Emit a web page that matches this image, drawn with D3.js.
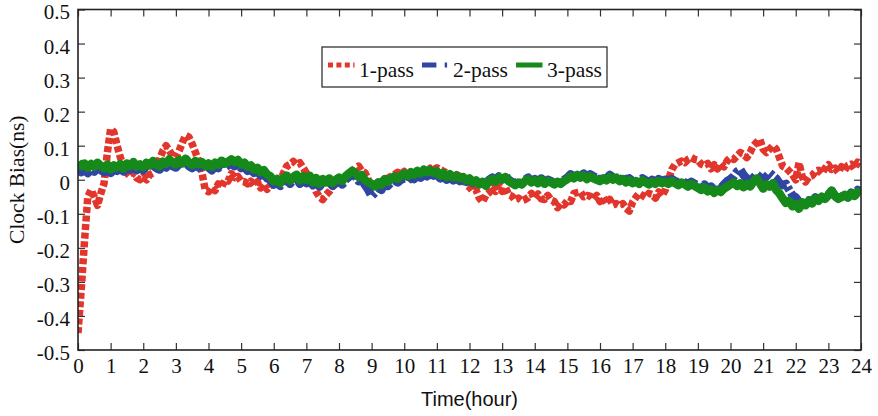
<!DOCTYPE html>
<html><head><meta charset="utf-8">
<script src="https://cdn.jsdelivr.net/npm/d3@7"></script>
<style>
html,body{margin:0;padding:0;background:#fff;}
svg{display:block;}
</style></head>
<body>
<svg id="chart" width="878" height="416"></svg>
<script>
// ---- data ----
const timeStep = 0.1; // hours between samples (0 .. 24)
const xTickLabels = ["0","1","2","3","4","5","6","7","8","9","10","11","12","13","14","15","16","17","18","19","20","21","22","23","24"];
const yTickValues = [-0.5,-0.4,-0.3,-0.2,-0.1,0,0.1,0.2,0.3,0.4,0.5];
const yTickLabels = ["-0.5","-0.4","-0.3","-0.2","-0.1","0","0.1","0.2","0.3","0.4","0.5"];
const seriesNames = ["1-pass","2-pass","3-pass"];

const pass1 = [
-0.45,-0.32,-0.18,-0.05,-0.03,-0.05,-0.075,-0.04,-0.01,0.08,
0.15,0.14,0.10,0.065,0.04,0.02,0.01,0.02,0.005,0.0,
0.01,0.0,0.015,0.02,0.035,0.06,0.085,0.10,0.085,0.07,
0.065,0.085,0.11,0.13,0.125,0.105,0.08,0.055,0.02,-0.03,
-0.035,-0.022,-0.032,-0.012,-0.022,-0.002,-0.004,0.018,0.006,0.010,
-0.004,-0.006,-0.012,-0.004,-0.018,-0.006,-0.024,-0.012,-0.028,-0.016,
-0.015,-0.01,-0.005,0.02,0.04,0.045,0.054,0.045,0.05,0.035,
0.02,0.005,-0.01,-0.035,-0.05,-0.058,-0.045,-0.035,-0.02,-0.01,
-0.005,0.0,0.005,0.01,0.02,0.035,0.04,0.025,0.02,0.0,
-0.02,-0.015,-0.01,-0.005,0.0,0.005,0.01,0.015,0.022,0.015,
0.024,0.008,0.022,0.010,0.024,0.008,0.022,0.020,0.034,0.030,
0.035,0.03,0.025,0.02,0.015,0.01,0.015,0.01,0.005,-0.015,
-0.022,-0.034,-0.030,-0.054,-0.065,-0.046,-0.038,-0.020,-0.034,-0.016,
-0.034,-0.022,-0.044,-0.048,-0.060,-0.054,-0.062,-0.058,-0.052,-0.040,
-0.054,-0.042,-0.056,-0.058,-0.046,-0.060,-0.064,-0.082,-0.070,-0.074,
-0.062,-0.064,-0.040,-0.038,-0.036,-0.050,-0.046,-0.048,-0.058,-0.046,
-0.064,-0.052,-0.068,-0.058,-0.074,-0.070,-0.076,-0.070,-0.084,-0.092,
-0.066,-0.052,-0.040,-0.046,-0.052,-0.040,-0.044,-0.054,-0.036,-0.048,
-0.03,0.0,0.03,0.045,0.05,0.055,0.05,0.06,0.065,0.06,
0.058,0.046,0.042,0.048,0.032,0.044,0.032,0.048,0.038,0.056,
0.065,0.06,0.07,0.08,0.075,0.065,0.08,0.1,0.11,0.118,
0.09,0.08,0.09,0.1,0.09,0.065,0.04,0.035,0.025,0.015,
0.000,0.050,0.008,-0.006,0.008,0.012,0.024,0.028,0.018,0.034,
0.044,0.030,0.034,0.022,0.038,0.028,0.042,0.046,0.032,0.052,
0.045];

const pass2 = [
0.030,0.022,0.028,0.020,0.030,0.024,0.036,0.028,0.022,0.032,
0.020,0.030,0.026,0.036,0.024,0.034,0.030,0.040,0.028,0.034,
0.028,0.040,0.032,0.044,0.034,0.030,0.042,0.036,0.048,0.040,
0.036,0.046,0.038,0.050,0.040,0.034,0.044,0.036,0.040,0.030,
0.036,0.028,0.038,0.034,0.044,0.036,0.042,0.048,0.040,0.046,
0.034,0.038,0.026,0.030,0.020,0.024,0.012,0.016,0.004,0.000,
-0.014,-0.008,-0.018,-0.004,0.004,-0.012,0.000,0.006,-0.012,0.000,
-0.010,0.002,-0.016,-0.004,-0.020,-0.008,-0.016,-0.006,-0.018,-0.010,
-0.004,-0.014,0.000,0.008,0.016,0.010,-0.004,0.002,-0.016,-0.030,
-0.048,-0.038,-0.024,-0.030,-0.010,-0.018,-0.008,-0.002,-0.008,0.000,
0.004,-0.004,0.008,0.002,0.012,0.006,0.016,0.010,0.018,0.012,
0.016,0.004,0.012,0.000,0.008,-0.002,0.004,-0.004,0.002,-0.006,
0.000,-0.010,-0.004,-0.012,-0.004,-0.014,0.000,0.006,-0.002,0.010,
0.004,0.012,0.000,-0.006,-0.012,-0.004,-0.010,0.000,0.006,-0.004,
0.002,-0.006,0.004,-0.008,0.000,-0.004,-0.010,-0.002,-0.008,0.000,
0.006,0.016,0.010,0.020,0.012,0.018,0.008,0.016,0.010,0.006,
0.002,0.010,0.004,0.014,0.006,0.012,0.002,0.008,-0.002,0.004,
-0.004,0.002,-0.006,0.004,-0.002,-0.008,0.000,-0.006,0.002,-0.004,
0.000,-0.006,0.002,-0.004,-0.010,-0.002,-0.008,-0.014,-0.006,-0.012,
-0.016,-0.022,-0.014,-0.026,-0.020,-0.030,-0.022,-0.026,-0.014,-0.004,
0.002,0.010,0.024,0.030,0.014,0.004,-0.004,0.006,0.016,0.008,
-0.002,0.010,0.020,0.012,0.004,-0.010,-0.016,-0.012,-0.030,-0.046,
-0.052,-0.064,-0.058,-0.068,-0.060,-0.064,-0.052,-0.058,-0.048,-0.054,
-0.044,-0.032,-0.046,-0.056,-0.050,-0.044,-0.052,-0.038,-0.044,-0.030,
-0.036];

const pass3 = [
0.052,0.040,0.048,0.035,0.046,0.038,0.050,0.041,0.034,0.045,
0.030,0.042,0.036,0.046,0.033,0.048,0.040,0.052,0.038,0.045,
0.037,0.050,0.042,0.055,0.044,0.040,0.053,0.047,0.060,0.050,
0.045,0.058,0.048,0.062,0.050,0.043,0.055,0.046,0.052,0.040,
0.048,0.038,0.050,0.044,0.056,0.047,0.053,0.060,0.052,0.058,
0.045,0.050,0.038,0.042,0.030,0.035,0.022,0.028,0.015,0.010,
-0.005,0.002,-0.010,0.005,0.012,-0.003,0.008,0.015,-0.002,0.010,
0.000,0.012,-0.008,0.005,-0.012,0.002,-0.008,0.004,-0.010,0.000,
0.006,-0.004,0.010,0.018,0.026,0.020,0.008,0.014,-0.002,-0.008,
-0.012,-0.020,-0.008,-0.015,0.002,-0.006,0.004,0.010,0.003,0.012,
0.018,0.010,0.022,0.015,0.026,0.018,0.030,0.022,0.028,0.020,
0.025,0.012,0.020,0.008,0.016,0.006,0.012,0.004,0.008,-0.002,
0.004,-0.008,-0.002,-0.014,-0.006,-0.018,-0.004,0.002,-0.006,0.006,
0.000,0.008,-0.004,-0.010,-0.016,-0.008,-0.014,-0.004,0.002,-0.008,
-0.002,-0.010,0.000,-0.012,-0.004,-0.008,-0.014,-0.006,-0.012,-0.004,
0.002,0.010,0.004,0.014,0.006,0.012,0.002,0.010,0.004,0.000,
-0.004,0.004,-0.002,0.008,0.000,0.006,-0.004,0.002,-0.008,-0.002,
-0.010,-0.004,-0.012,-0.002,-0.008,-0.014,-0.006,-0.012,-0.004,-0.010,
-0.006,-0.012,-0.004,-0.010,-0.016,-0.008,-0.014,-0.020,-0.012,-0.018,
-0.024,-0.030,-0.022,-0.034,-0.028,-0.038,-0.030,-0.036,-0.026,-0.020,
-0.014,-0.008,-0.018,-0.010,-0.022,-0.012,-0.020,-0.006,0.004,-0.010,
-0.026,-0.014,-0.020,-0.010,-0.030,-0.040,-0.055,-0.068,-0.062,-0.078,
-0.072,-0.085,-0.066,-0.075,-0.062,-0.070,-0.055,-0.062,-0.050,-0.056,
-0.046,-0.032,-0.048,-0.056,-0.050,-0.044,-0.052,-0.040,-0.048,-0.036,
-0.042];

const colors = ["#e2352b", "#3146a3", "#15891a"];

// ---- layout ----
const L = 78, R = 861, T = 9.5, B = 350;
const svg = d3.select("#chart");
const x = d3.scaleLinear().domain([0, 24]).range([L, R]);
const y = d3.scaleLinear().domain([-0.5, 0.5]).range([B, T]);
const serif = "'Liberation Serif','Times New Roman',serif";
const sans = "'Liberation Sans',Arial,sans-serif";

svg.append("clipPath").attr("id","clip").append("rect")
  .attr("x", L).attr("y", T).attr("width", R - L).attr("height", B - T);

const toPts = arr => arr.map((v, i) => [i * timeStep, v]);
const line = d3.line().x(d => x(d[0])).y(d => y(d[1]));

const plot = svg.append("g").attr("clip-path", "url(#clip)");
const dashes = ["6,2.6", "16,2.5,4,2.5", null];
const widths = [7.5, 8.5, 8.5];
[pass1, pass2, pass3].forEach((s, k) => {
  plot.append("path").datum(toPts(s))
    .attr("d", line)
    .attr("fill", "none")
    .attr("stroke", colors[k])
    .attr("stroke-width", widths[k])
    .attr("stroke-linejoin", "round")
    .attr("stroke-dasharray", dashes[k]);
});

// ---- axes ----
const xTickVals = xTickLabels.map(Number);
const gx = svg.append("g").attr("transform", `translate(0,${B})`)
  .call(d3.axisBottom(x).tickValues(xTickVals).tickSize(-7).tickPadding(8)
    .tickFormat((d, i) => xTickLabels[i]));
const gxt = svg.append("g").attr("transform", `translate(0,${T})`)
  .call(d3.axisTop(x).tickValues(xTickVals).tickSize(-7).tickFormat(""));
const gy = svg.append("g").attr("transform", `translate(${L},0)`)
  .call(d3.axisLeft(y).tickValues(yTickValues).tickSize(-7).tickPadding(8)
    .tickFormat((d, i) => yTickLabels[i]));
const gyr = svg.append("g").attr("transform", `translate(${R},0)`)
  .call(d3.axisRight(y).tickValues(yTickValues).tickSize(-7).tickFormat(""));

[gx, gxt, gy, gyr].forEach(g => {
  g.attr("font-family", serif).attr("font-size", 21);
  g.select(".domain").remove();
  g.selectAll(".tick line").attr("stroke", "#333").attr("stroke-width", 1.2);
  g.selectAll("text").attr("font-family", serif).attr("font-size", 21).attr("fill", "#111");
});
gy.selectAll("text").attr("dy", "0.45em");

svg.append("rect").attr("x", L).attr("y", T).attr("width", R - L).attr("height", B - T)
  .attr("fill", "none").attr("stroke", "#222").attr("stroke-width", 1.6);

// titles
svg.append("text").attr("x", (L + R) / 2).attr("y", 406).attr("text-anchor", "middle")
  .attr("font-family", sans).attr("font-size", 20).attr("fill", "#111").text("Time(hour)");
svg.append("text").attr("transform", `translate(24,${(T + B) / 2}) rotate(-90)`)
  .attr("text-anchor", "middle").attr("font-family", serif).attr("font-size", 21.5)
  .attr("fill", "#111").text("Clock Bias(ns)");

// ---- legend ----
const lg = svg.append("g");
lg.append("rect").attr("x", 322).attr("y", 47).attr("width", 285).attr("height", 40)
  .attr("fill", "#fff").attr("stroke", "#222").attr("stroke-width", 1.2);
const legendDash = ["5,3.4", "14.4,8.3,2.4,20", null];
const sampleX = [328, 422, 516];
seriesNames.forEach((n, k) => {
  lg.append("line").attr("x1", sampleX[k]).attr("x2", sampleX[k] + 26.5)
    .attr("y1", 65).attr("y2", 65)
    .attr("stroke", colors[k]).attr("stroke-width", 5)
    .attr("stroke-dasharray", legendDash[k]);
  lg.append("text").attr("x", sampleX[k] + 31).attr("y", 77)
    .attr("font-family", serif).attr("font-size", 21.5).attr("fill", "#111").text(n);
});
</script>
</body></html>
